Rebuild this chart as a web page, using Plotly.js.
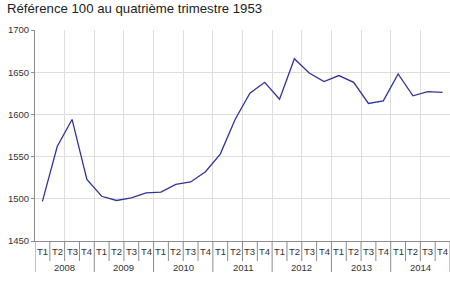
<!DOCTYPE html>
<html>
<head>
<meta charset="utf-8">
<script src="https://cdn.plot.ly/plotly-3.0.1.min.js"></script>
<style>html,body{margin:0;padding:0;background:#fff;}#chart{width:450px;height:291px;}</style>
</head>
<body>
<div id="chart"></div>
<script>
const years = ["2008","2009","2010","2011","2012","2013","2014"];
const quarters = ["T1","T2","T3","T4"];
const values = [
  1497, 1562, 1594, 1523,
  1503, 1498, 1501, 1507,
  1508, 1517, 1520, 1532,
  1553, 1594, 1625, 1638,
  1618, 1666, 1649, 1639,
  1646, 1638, 1613, 1616,
  1648, 1622, 1627, 1626
];
const titleText = "Référence 100 au quatrième trimestre 1953";

const n = values.length;
const xs = values.map((v, i) => i);

const shapes = [];
const annotations = [];
const FONT = "Liberation Sans, Arial, sans-serif";
for (let i = 0; i <= n; i++) {
  const isYear = i % 4 === 0;
  shapes.push({
    type: "line", xref: "x", yref: "paper",
    x0: i - 0.5, x1: i - 0.5, y0: 0, y1: isYear ? -31 / 211 : -20 / 211,
    line: {color: "#8c8c8c", width: 1}
  });
}
for (let i = 0; i < n; i++) {
  annotations.push({
    xref: "x", yref: "paper", x: i, y: 0, yshift: -10,
    text: quarters[i % 4], showarrow: false, yanchor: "middle", xanchor: "center",
    font: {family: FONT, size: 9.5, color: "#333"}
  });
}
years.forEach((yr, k) => {
  annotations.push({
    xref: "x", yref: "paper", x: k * 4 + 1.5, y: 0, yshift: -26,
    text: yr, showarrow: false, yanchor: "middle", xanchor: "center",
    font: {family: FONT, size: 9.5, color: "#333"}
  });
});

const trace = {
  x: xs, y: values, type: "scatter", mode: "lines",
  line: {color: "#33339a", width: 1.3},
  hoverinfo: "skip"
};

const layout = {
  width: 450, height: 291,
  margin: {l: 35, r: 0, t: 30, b: 50, pad: 0},
  paper_bgcolor: "#fff", plot_bgcolor: "#fff",
  showlegend: false,
  title: {text: titleText, x: 0, xref: "container", xanchor: "left", y: 1, yref: "container", yanchor: "top",
          pad: {l: 7, t: 4}, font: {family: FONT, size: 13.2, color: "#222"}},
  xaxis: {
    range: [-0.5, n - 0.5], tick0: -0.5, dtick: 2, showticklabels: false,
    showgrid: true, gridcolor: "#dedede", gridwidth: 1,
    zeroline: false, showline: true, linecolor: "#8c8c8c", linewidth: 1,
    ticks: "", fixedrange: true
  },
  yaxis: {
    range: [1450, 1700], tick0: 1450, dtick: 50,
    showgrid: true, gridcolor: "#dedede", gridwidth: 1,
    zeroline: false, showline: true, linecolor: "#8c8c8c", linewidth: 1,
    ticks: "outside", ticklen: 3, tickcolor: "#8c8c8c",
    tickfont: {family: FONT, size: 9.5, color: "#333"},
    fixedrange: true
  },
  shapes: shapes,
  annotations: annotations
};

Plotly.newPlot("chart", [trace], layout, {displayModeBar: false, staticPlot: true});
</script>
</body>
</html>
